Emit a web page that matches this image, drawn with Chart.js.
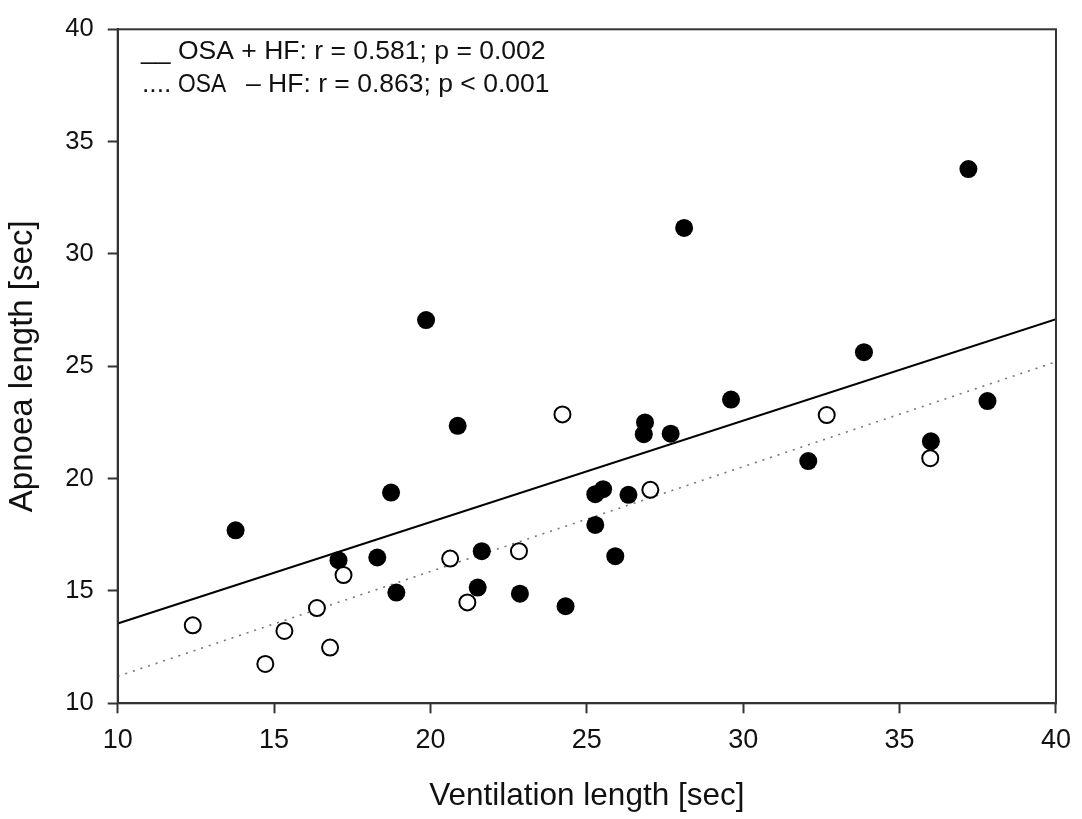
<!DOCTYPE html>
<html lang="en">
<head>
    <meta charset="UTF-8">
    <title>Apnoea vs Ventilation length</title>
    <script src="https://cdn.jsdelivr.net/npm/chart.js"></script>
    <style>
        html, body { margin: 0; padding: 0; background: #fff; }
        canvas { display: block; }
    </style>
</head>
<body>
    <canvas id="scatterChart" width="1082" height="819"></canvas>

    <script>
// OSA + HF (filled circles)
const plusX = [19.86, 20.87, 18.74, 13.77, 17.06, 18.30, 18.91, 21.64, 21.51, 22.86,
               37.20, 28.11, 33.86, 29.61, 37.81, 26.86, 26.82, 27.68, 32.08, 36.00,
               25.52, 25.27, 26.33, 25.27, 25.91, 24.32];
const plusY = [27.06, 22.35, 19.38, 17.70, 16.37, 16.49, 14.93, 16.77, 15.15, 14.88,
               33.78, 31.16, 25.63, 23.52, 23.45, 22.50, 21.98, 22.00, 20.78, 21.66,
               19.53, 19.31, 19.28, 17.94, 16.55, 14.32];

// OSA - HF (open circles)
const minusX = [12.40, 14.72, 15.33, 16.37, 16.79, 17.22, 20.63, 21.18, 22.83, 24.22, 32.67, 35.98, 27.03];
const minusY = [13.47, 11.75, 13.22, 14.24, 12.48, 15.71, 16.44, 14.49, 16.77, 22.86, 22.83, 20.91, 19.50];

// regression lines (end points)
const fitX = [10, 40];
const fitPlusY = [13.55, 27.1];
const fitMinusY = [11.2, 25.2];

const xTicks = [10, 15, 20, 25, 30, 35, 40];
const yTicks = [10, 15, 20, 25, 30, 35, 40];

function pts(xs, ys) {
    return xs.map((x, i) => ({ x: x, y: ys[i] }));
}

// frame + in-plot legend text
const framePlugin = {
    id: 'frame',
    afterDraw(chart) {
        const ctx = chart.ctx;
        const a = chart.chartArea;
        ctx.save();
        ctx.strokeStyle = '#333';
        ctx.lineWidth = 2;
        ctx.strokeRect(a.left, a.top, a.right - a.left, a.bottom - a.top);

        ctx.fillStyle = '#111';
        ctx.textBaseline = 'alphabetic';
        ctx.textAlign = 'left';
        ctx.font = '26.5px "Liberation Sans", Arial, sans-serif';
        ctx.fillText('__', 141, 59);
        ctx.fillText('OSA + HF: r = 0.581; p = 0.002', 178, 59);
        ctx.fillText('....', 142, 92);
        ctx.fillText('\u2013 HF: r = 0.863; p < 0.001', 246, 92);
        // second "OSA" is set narrower in the original
        ctx.translate(178, 92);
        ctx.scale(0.86, 1);
        ctx.fillText('OSA', 0, 0);
        ctx.restore();
    }
};

const ctx = document.getElementById('scatterChart').getContext('2d');
const myChart = new Chart(ctx, {
    type: 'scatter',
    data: {
        datasets: [
            {
                type: 'line',
                label: 'fit OSA + HF',
                data: pts(fitX, fitPlusY),
                borderColor: '#000',
                borderWidth: 2,
                pointRadius: 0,
                fill: false,
                order: 4
            },
            {
                type: 'line',
                label: 'fit OSA - HF',
                data: pts(fitX, fitMinusY),
                borderColor: '#777',
                borderWidth: 1.6,
                borderDash: [2, 6],
                pointRadius: 0,
                fill: false,
                order: 3
            },
            {
                label: 'OSA + HF',
                data: pts(plusX, plusY),
                backgroundColor: '#000',
                borderColor: '#000',
                borderWidth: 0,
                pointRadius: 9,
                order: 2
            },
            {
                label: 'OSA - HF',
                data: pts(minusX, minusY),
                backgroundColor: '#fff',
                borderColor: '#000',
                borderWidth: 2,
                pointRadius: 8,
                order: 1
            }
        ]
    },
    options: {
        responsive: false,
        animation: false,
        layout: { padding: { left: 0, top: 22.7, right: 22, bottom: 0 } },
        plugins: {
            legend: { display: false },
            tooltip: { enabled: false }
        },
        scales: {
            x: {
                type: 'linear',
                min: 10,
                max: 40,
                afterFit: s => { s.height = 115.7; },
                afterBuildTicks: s => { s.ticks = xTicks.map(v => ({ value: v })); },
                ticks: {
                    color: '#111',
                    padding: 11,
                    font: { family: '"Liberation Sans", Arial', size: 27 }
                },
                grid: { drawOnChartArea: false, tickLength: 10, tickColor: '#333', tickWidth: 2 },
                border: { color: '#333', width: 2 },
                title: {
                    display: true,
                    text: 'Ventilation length [sec]',
                    color: '#111',
                    font: { family: '"Liberation Sans", Arial', size: 31.5 },
                    padding: { top: 0, bottom: 4 }
                }
            },
            y: {
                type: 'linear',
                min: 10,
                max: 40,
                afterFit: s => { s.width = 117.7; },
                afterBuildTicks: s => { s.ticks = yTicks.map(v => ({ value: v })); },
                ticks: {
                    color: '#111',
                    padding: 14,
                    font: { family: '"Liberation Sans", Arial', size: 25.5 }
                },
                grid: { drawOnChartArea: false, tickLength: 10, tickColor: '#333', tickWidth: 2 },
                border: { color: '#333', width: 2 },
                title: {
                    display: true,
                    text: 'Apnoea length [sec]',
                    color: '#111',
                    font: { family: '"Liberation Sans", Arial', size: 33 },
                    padding: { top: 3, bottom: 0 }
                }
            }
        }
    },
    plugins: [framePlugin]
});
    </script>
</body>
</html>
